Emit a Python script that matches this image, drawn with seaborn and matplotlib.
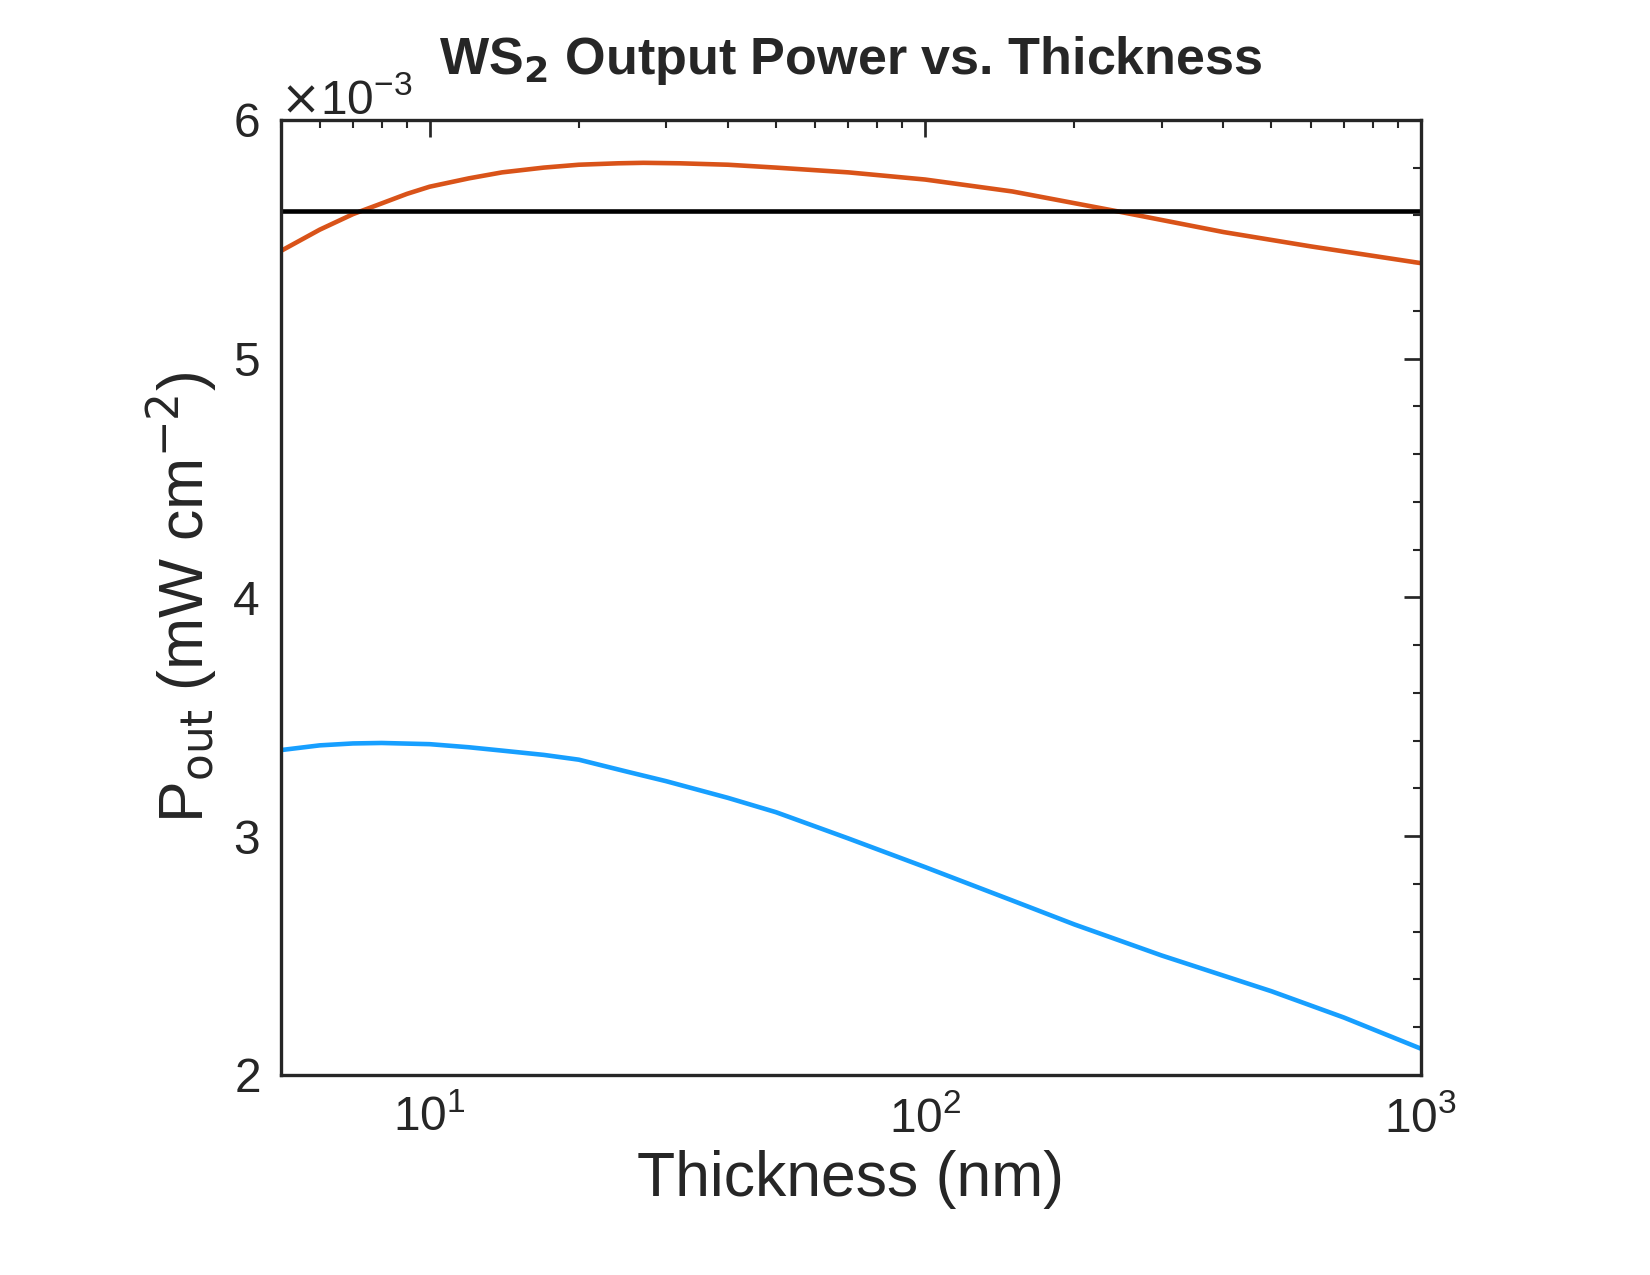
import matplotlib
matplotlib.use("Agg")
import matplotlib.pyplot as plt
import seaborn as sns
import numpy as np
from matplotlib.ticker import MultipleLocator, LogLocator, NullFormatter

sns.set_theme(style="white")
plt.rcParams['font.family'] = ['Liberation Sans', 'DejaVu Sans']

thick_orange = [5, 6, 7, 8, 9, 10, 12, 14, 17, 20, 24, 27, 32, 40, 50, 70, 100, 150, 240, 400, 600, 1000]
p_orange = [5.45, 5.54, 5.605, 5.65, 5.69, 5.72, 5.755, 5.78, 5.80, 5.812, 5.818, 5.82, 5.818, 5.812, 5.80, 5.78, 5.75, 5.70, 5.62, 5.53, 5.47, 5.40]
thick_blue = [5, 6, 7, 8, 10, 12, 14, 17, 20, 25, 30, 40, 50, 70, 100, 150, 200, 300, 500, 700, 1000]
p_blue = [3.36, 3.38, 3.388, 3.39, 3.385, 3.372, 3.358, 3.34, 3.32, 3.27, 3.23, 3.16, 3.10, 2.99, 2.87, 2.73, 2.63, 2.50, 2.35, 2.24, 2.11]
ref_x = [5, 1000]
ref_y = [5.62, 5.62]

fig = plt.figure(figsize=(11, 8.5), dpi=150)
ax = fig.add_axes([0.170, 0.157, 0.691, 0.749])
scale = 1e-3
sns.lineplot(x=thick_orange, y=np.array(p_orange) * scale, ax=ax, color='#D95319', lw=2.2)
sns.lineplot(x=thick_blue, y=np.array(p_blue) * scale, ax=ax, color='#179FFF', lw=2.2)
sns.lineplot(x=ref_x, y=np.array(ref_y) * scale, ax=ax, color='black', lw=2.2)
ax.set_xscale('log')
ax.set_xlim(5, 1000)
ax.set_ylim(2e-3, 6e-3)
ax.xaxis.set_major_locator(LogLocator(base=10, numticks=10))
ax.xaxis.set_minor_locator(LogLocator(base=10, subs=np.arange(2, 10), numticks=20))
ax.xaxis.set_minor_formatter(NullFormatter())
ax.yaxis.set_major_locator(MultipleLocator(1e-3))
ax.yaxis.set_minor_locator(MultipleLocator(0.2e-3))
ax.ticklabel_format(axis='y', style='sci', scilimits=(-3, -3), useMathText=True)
ax.yaxis.get_offset_text().set_fontsize(23)
ax.yaxis.get_offset_text().set_color('#262626')
ax.tick_params(which='both', direction='in', top=True, right=True, labelsize=23, colors='#262626', pad=10)
ax.tick_params(which='major', length=8, width=1.3)
ax.tick_params(which='minor', length=4, width=1.0)
for s in ax.spines.values():
    s.set_color('#262626'); s.set_linewidth(1.6)
ax.set_xlabel('Thickness (nm)', fontsize=30, color='#262626', labelpad=4)
ax.set_ylabel(r'P$_{\mathrm{out}}$ (mW cm$^{-2}$)', fontsize=30, color='#262626', labelpad=6)
ax.set_title(r'WS$_{\mathbf{2}}$ Output Power vs. Thickness', fontsize=25, fontweight='bold', pad=22)
fig.savefig('out.png', dpi=150)
